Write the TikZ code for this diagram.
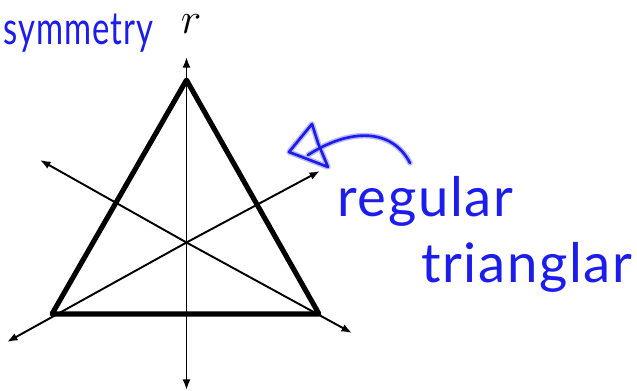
\documentclass[tikz,border=0pt]{standalone}
\usepackage{fontspec}
\usetikzlibrary{arrows.meta}
\newfontfamily\handfont{Lato}[LetterSpace=3]
\definecolor{ink}{RGB}{28,28,236}

\tikzset{
  axisline/.style={line width=1.1pt, -{Latex[length=6pt,width=4.5pt]}},
  triside/.style={line width=2.9pt, line join=round},
  inkglow/.style={ink!30, line width=3.2pt, line cap=round, line join=round},
  inkline/.style={ink, line width=1.5pt, line cap=round, line join=round},
  inktext/.style={ink, inner sep=0pt, anchor=base west, font=\handfont\fontsize{#1}{#1}\selectfont}
}

\begin{document}
\begin{tikzpicture}[x=0.02cm, y=-0.02cm]
\useasboundingbox (0,0) rectangle (637,391);

% corners of the triangle
\coordinate (apex) at (186.5,80);
\coordinate (bl) at (52,314);
\coordinate (br) at (319,314);
\coordinate (mid) at (186.5,242.5);

% ends of the three symmetry axes
\coordinate (rtop) at (186.5,57);
\coordinate (rbot) at (186.5,390);
\coordinate (ulend) at (40,160);
\coordinate (lrend) at (352,333);
\coordinate (llend) at (7,342);
\coordinate (urend) at (320,171);

\draw[axisline] (mid) -- (rtop);
\draw[axisline] (mid) -- (rbot);
\draw[axisline] (mid) -- (ulend);
\draw[axisline] (mid) -- (lrend);
\draw[axisline] (mid) -- (llend);
\draw[axisline] (mid) -- (urend);

\draw[triside] (apex) -- (bl) -- (br) -- cycle;

\node[inner sep=0pt] (rlabel) at (191,24) {\fontsize{23}{23}\selectfont $r$};

% handwritten notes
\node[inktext=26] (sym) at (3,45) {\scalebox{0.72}[1]{symmetry}};
\node[inktext=31] (reg) at (337,217) {regular};
\node[inktext=31] (tri) at (421,283) {trianglar};

\coordinate (tail) at (410,163);
\coordinate (head) at (308,155);
\foreach \pen in {inkglow,inkline} {
  \draw[\pen] (tail) .. controls (392,128) and (350,128) .. (head);
  \draw[\pen] (312,124) -- (289,152) -- (328,167) -- (318,143) -- cycle;
}
\end{tikzpicture}
\end{document}
